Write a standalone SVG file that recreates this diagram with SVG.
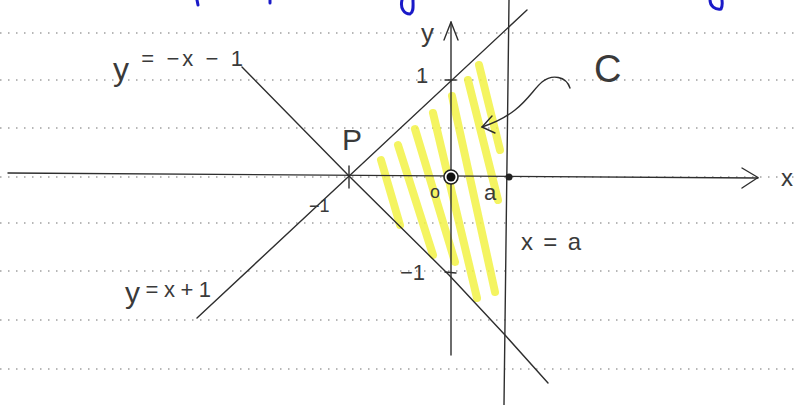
<svg xmlns="http://www.w3.org/2000/svg" width="798" height="405" viewBox="0 0 798 405">
<style>
.rule{stroke:#a0a0a0;stroke-width:1.5;stroke-dasharray:1.5 6.5;fill:none}
.ln{stroke:#2e2e2e;stroke-width:1.4;fill:none;stroke-linecap:round;stroke-linejoin:round}
.hatch{stroke:#f2f245;stroke-width:8;stroke-linecap:round;fill:none;opacity:0.85}
.lbl{font-family:"Liberation Sans","DejaVu Sans",sans-serif;fill:#3a3a3a}
.blue{stroke:#1a1ac8;stroke-width:3;fill:none;stroke-linecap:round}
</style>
<rect width="798" height="405" fill="#ffffff"/>
<g id="ruled">
<line class="rule" x1="0" y1="33" x2="798" y2="33"/>
<line class="rule" x1="0" y1="80" x2="798" y2="80"/>
<line class="rule" x1="0" y1="128" x2="798" y2="128"/>
<line class="rule" x1="0" y1="177" x2="798" y2="177"/>
<line class="rule" x1="0" y1="223" x2="798" y2="223"/>
<line class="rule" x1="0" y1="271" x2="798" y2="271"/>
<line class="rule" x1="0" y1="320" x2="798" y2="320"/>
<line class="rule" x1="0" y1="369" x2="798" y2="369"/>
</g>
<g id="blue-fragments">
<path class="blue" d="M197 0 L198 5"/>
<path class="blue" d="M270 0 L270 3"/>
<path class="blue" d="M402 0 C400 8 404 14 410 14 C414 12 413 6 413 0"/>
<path class="blue" d="M710 0 C710 6 715 10 721 9 C723 5 722 2 722 0"/>
</g>
<g id="region-C">
<path class="hatch" d="M381 160 L400 225"/>
<path class="hatch" d="M398 145 L433 255"/>
<path class="hatch" d="M415 129 L455 262"/>
<path class="hatch" d="M433 113 L477 298"/>
<path class="hatch" d="M452 96 L495 292"/>
<path class="hatch" d="M468 80 L498 200"/>
<path class="hatch" d="M479 65 L500 150"/>
</g>
<g id="axes">
<path class="ln" d="M8 173 L758 178"/>
<path class="ln" d="M742 168 L758 177.5 L742 188"/>
<path class="ln" d="M451 355 L451 22"/>
<path class="ln" d="M444 40 L451 22 L458 40"/>
<path class="ln" d="M349 166 L349 188"/>
<path class="ln" d="M445 80 L456 80"/>
<path class="ln" d="M445 272 L456 273"/>
</g>
<g id="lines">
<path id="line-y-neg" class="ln" d="M242 67 L349 176 L449 275 L505 335 L548 383"/>
<path id="line-y-pos" class="ln" d="M197 318 L527 10"/>
<path id="line-x-a" class="ln" d="M509 0 L504 405"/>
</g>
<g id="points">
<circle cx="451" cy="177" r="7" fill="#ffffff" stroke="#222" stroke-width="1.6"/>
<circle cx="451" cy="177" r="4.5" fill="#111"/>
<circle cx="509" cy="177" r="3.5" fill="#222"/>
</g>
<g id="arrow-C">
<path class="ln" d="M570 88 C566 76 552 74 542 82 C530 92 522 114 482 127"/>
<path class="ln" d="M492 116 L482 127 L495 133"/>
</g>
<g id="labels">
<text class="lbl" x="113" y="66" font-size="22" textLength="130" lengthAdjust="spacing"><tspan font-size="32" dy="14">y</tspan><tspan dy="-14"> = −x − 1</tspan></text>
<text class="lbl" x="125" y="297" font-size="22" textLength="86" lengthAdjust="spacing"><tspan font-size="30" dy="6">y</tspan><tspan dy="-6"> = x + 1</tspan></text>
<text class="lbl" x="521" y="250" font-size="24" textLength="60" lengthAdjust="spacing">x = a</text>
<text class="lbl" x="342" y="150" font-size="30">P</text>
<text class="lbl" x="594" y="82" font-size="38">C</text>
<text class="lbl" x="416" y="83" font-size="22">1</text>
<text class="lbl" x="400" y="280" font-size="22">−1</text>
<text class="lbl" x="309" y="212" font-size="18">−1</text>
<text class="lbl" x="430" y="198" font-size="18">o</text>
<text class="lbl" x="484" y="200" font-size="22">a</text>
<text class="lbl" x="421" y="42" font-size="26">y</text>
<text class="lbl" x="781" y="186" font-size="24">x</text>
</g>
</svg>
